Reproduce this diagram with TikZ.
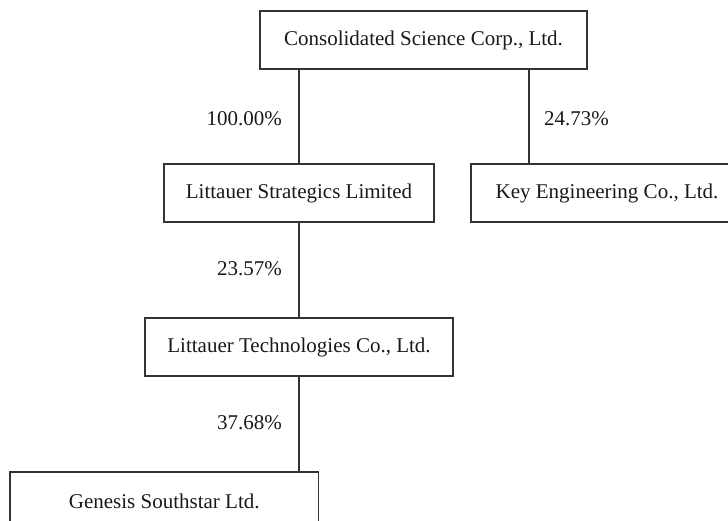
\documentclass[tikz,border=0pt]{standalone}
\usepackage{fontspec}
\setmainfont{Liberation Serif}
\begin{document}
\begin{tikzpicture}[x=1pt,y=1pt,
  box/.style={draw=black!80, line width=1.2pt, minimum height=58pt, inner sep=0pt,
    font=\fontsize{21}{25}\selectfont, text=black!90},
  pct/.style={font=\fontsize{21}{25}\selectfont, inner sep=0pt, text=black!90},
  conn/.style={draw=black!80, line width=1.2pt}]
\clip (0,0) rectangle (728,520);
\node[box, minimum width=327pt] (top) at (423.5,480) {Consolidated Science Corp., Ltd.};
\node[box, minimum width=270pt] (ls) at (299,327) {Littauer Strategics Limited};
\node[box, minimum width=272pt] (ke) at (607,327) {Key Engineering Co., Ltd.};
\node[box, minimum width=308pt] (lt) at (299,173) {Littauer Technologies Co., Ltd.};
\node[box, minimum width=308.5pt] (gen) at (164.25,19) {Genesis Southstar Ltd.};
\draw[conn] (ls.north) -- (ls.north |- top.south);
\draw[conn] ([xshift=-78pt]ke.north) -- ([xshift=-78pt]ke.north |- top.south);
\draw[conn] (lt.north) -- (ls.south);
\draw[conn] (lt.south) -- (lt.south |- gen.north);
\node[pct, anchor=east] (p1) at (282,401) {100.00\%};
\node[pct, anchor=west] (p2) at (544,401) {24.73\%};
\node[pct, anchor=east] (p3) at (282,251) {23.57\%};
\node[pct, anchor=east] (p4) at (282,97) {37.68\%};
\end{tikzpicture}
\end{document}
